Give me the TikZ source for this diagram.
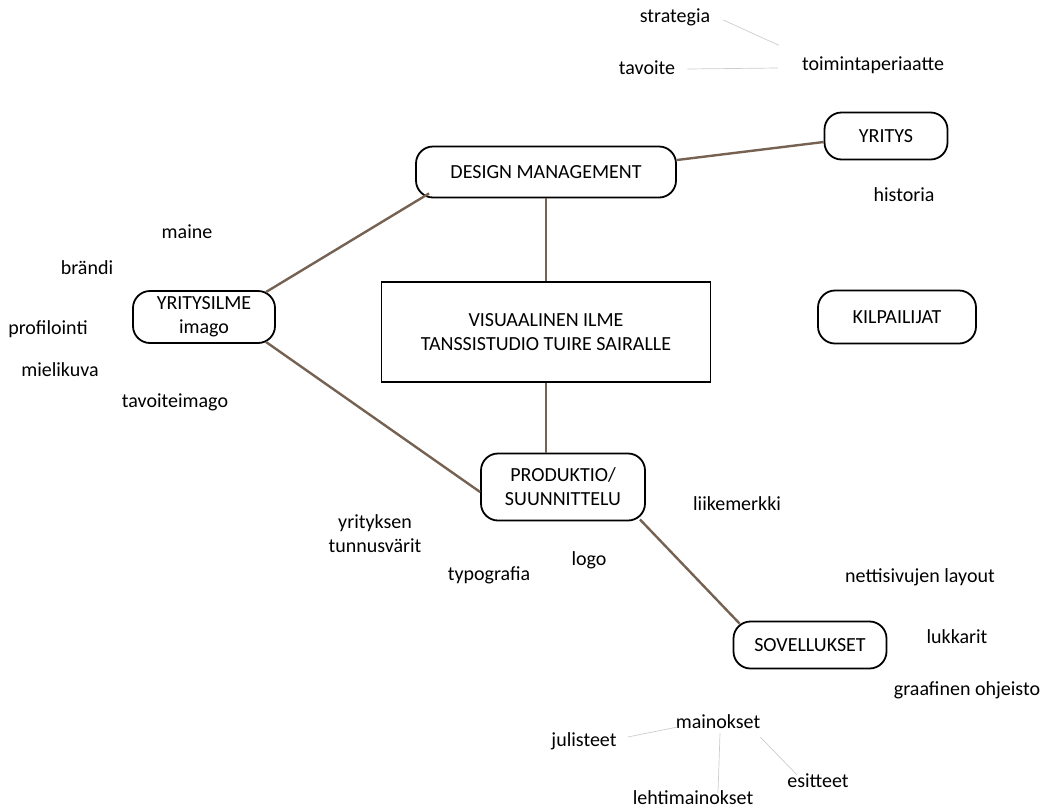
\documentclass[tikz,border=0pt]{standalone}
\usepackage{fontspec}
\setmainfont{Carlito}
\definecolor{linkbrown}{RGB}{118,98,82}
\definecolor{faintgray}{RGB}{205,205,205}

\begin{document}
\begin{tikzpicture}[x=1pt,y=-1pt]
\tikzstyle{every node}+=[font=\fontsize{20}{24}\selectfont, align=center]
\tikzstyle{word}=[inner sep=2pt]
\tikzstyle{pill}=[draw=black, line width=1.8pt, rounded corners=17pt, inner sep=0pt]
\tikzstyle{link}=[draw=linkbrown, line width=2.4pt]
\tikzstyle{faint}=[draw=faintgray, line width=0.7pt]
\useasboundingbox (0,0) rectangle (1048,809);
\node [pill, minimum width=260pt, minimum height=51pt] (dm) at (546,172) {DESIGN MANAGEMENT};
\node [pill, minimum width=123pt, minimum height=47pt] (yritys) at (886,136) {YRITYS};
\node [pill, minimum width=142pt, minimum height=52pt] (ilme) at (204,317) {YRITYSILME\\imago};
\node [draw=black, line width=1.8pt, minimum width=329pt, minimum height=100pt, inner sep=0pt] (vis) at (546,332) {VISUAALINEN ILME\\TANSSISTUDIO TUIRE SAIRALLE};
\node [pill, minimum width=158pt, minimum height=53pt] (kilp) at (897,317) {KILPAILIJAT};
\node [pill, minimum width=164pt, minimum height=67pt] (prod) at (563,487) {PRODUKTIO/\\SUUNNITTELU};
\node [pill, minimum width=153pt, minimum height=47pt] (sov) at (810,645) {SOVELLUKSET};
\node [word] (strategia) at (675,17) {strategia};
\node [word] (tavoite) at (647,68) {tavoite};
\node [word] (toiminta) at (873,65) {toimintaperiaatte};
\node [word] (historia) at (904,195) {historia};
\node [word] (maine) at (187,232) {maine};
\node [word] (brandi) at (87,268) {brändi};
\node [word] (profilointi) at (48,329) {profilointi};
\node [word] (mielikuva) at (60,370) {mielikuva};
\node [word] (tavoiteimago) at (175,402) {tavoiteimago};
\node [word] (liikemerkki) at (737,504) {liikemerkki};
\node [word] (tunnus) at (375,534) {yrityksen\\tunnusvärit};
\node [word] (logo) at (589,560) {logo};
\node [word] (typografia) at (489,575) {typografia};
\node [word] (nettisivut) at (920,577) {nettisivujen layout};
\node [word] (lukkarit) at (957,637) {lukkarit};
\node [word] (ohjeisto) at (967,690) {graafinen ohjeisto};
\node [word] (mainokset) at (718,722) {mainokset};
\node [word] (julisteet) at (584,741) {julisteet};
\node [word] (esitteet) at (818,781) {esitteet};
\node [word] (lehti) at (693,798) {lehtimainokset};
\draw [link] (dm.south) -- (vis.north);
\draw [link] ([yshift=12pt]dm.east) -- ([yshift=-6pt]yritys.west);
\draw [link] ([xshift=14pt,yshift=5pt]dm.south west) -- ([xshift=-10pt,yshift=-2pt]ilme.north east);
\draw [link] ([xshift=-10pt,yshift=2pt]ilme.south east) -- ([yshift=-5pt]prod.west);
\draw [link] (vis.south) -- (prod.north -| vis.south);
\draw [link] ([xshift=-6pt,yshift=2pt]prod.south east) -- ([xshift=7pt,yshift=-3pt]sov.north west);
\draw [faint] ([xshift=11pt,yshift=-3pt]strategia.east) -- ([xshift=-21pt,yshift=9pt]toiminta.north west);
\draw [faint] ([xshift=10pt,yshift=-1pt]tavoite.east) -- ([xshift=-22pt,yshift=-3pt]toiminta.west);
\draw [faint] ([xshift=9pt,yshift=4pt]julisteet.east) -- ([xshift=4pt,yshift=-5pt]mainokset.west);
\draw [faint] ([xshift=2pt,yshift=-2pt]mainokset.south) -- ([xshift=25pt,yshift=-4pt]lehti.north);
\draw [faint] ([xshift=-2pt,yshift=-6pt]mainokset.south east) -- ([xshift=-21pt,yshift=-3pt]esitteet.north);
\end{tikzpicture}
\end{document}
